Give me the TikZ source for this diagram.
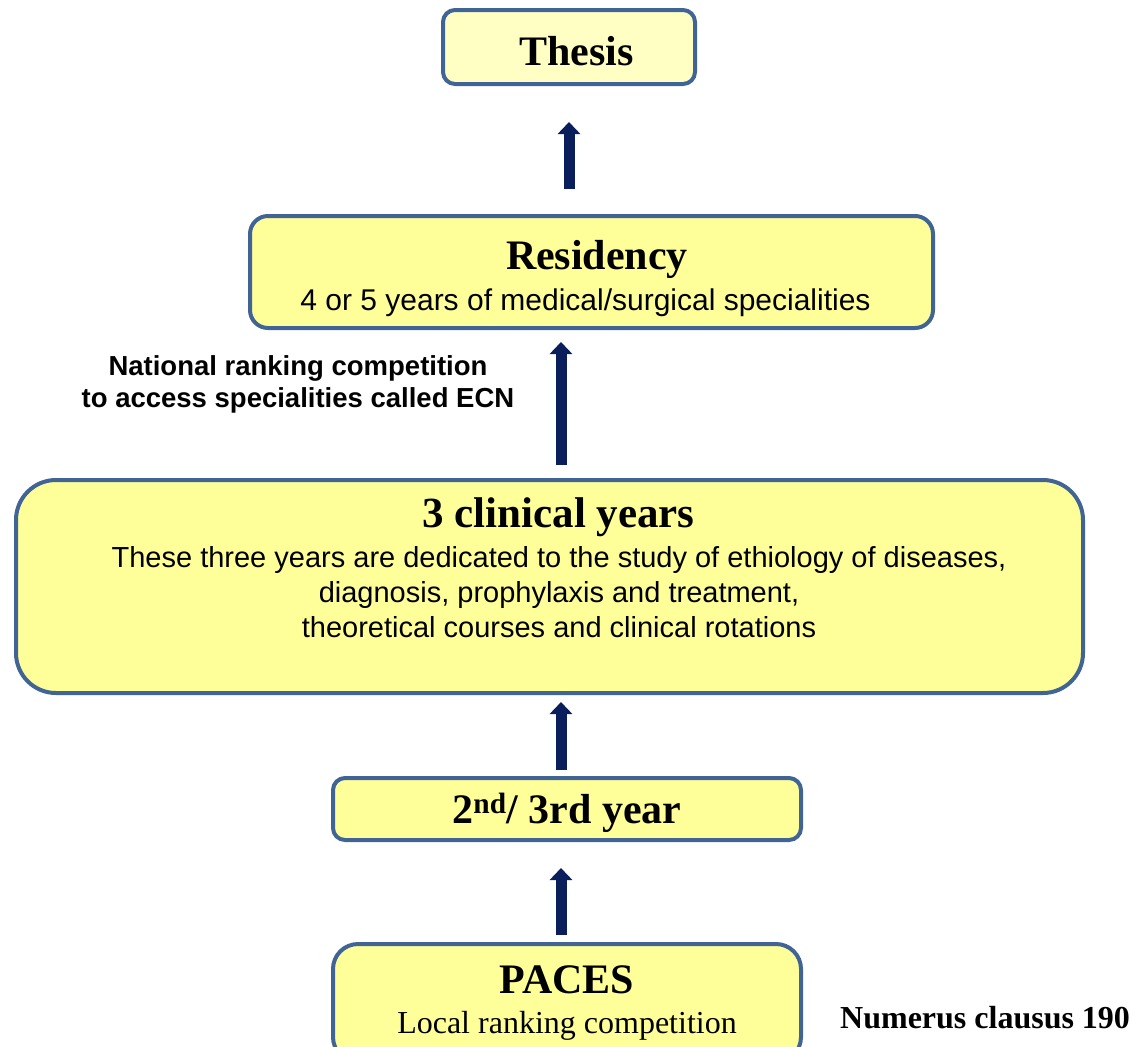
\documentclass[tikz,border=0pt]{standalone}
\usepackage{fontspec}
\setmainfont{Liberation Serif}
\setsansfont{Liberation Sans}
\usetikzlibrary{arrows.meta}
\usetikzlibrary{calc}

\definecolor{boxblue}{RGB}{65,100,150}
\definecolor{boxyellow}{RGB}{255,255,153}
\definecolor{thesisyellow}{RGB}{255,255,196}
\definecolor{arrowblue}{RGB}{10,30,92}

\newcommand{\titlefont}{\fontsize{42}{46}\selectfont\rmfamily\bfseries}

\begin{document}
\begin{tikzpicture}[x=1pt, y=-1pt,
	stage/.style={draw=boxblue, line width=4pt, fill=boxyellow, align=center, inner sep=0pt},
	uparrow/.style={draw=arrowblue, line width=11pt, -{Triangle[width=22pt,length=12pt]}}]
	\useasboundingbox (0,0) rectangle (1133,1047);
	\clip (0,0) rectangle (1133,1047);

	\node[stage, fill=thesisyellow, rounded corners=12pt, minimum width=252pt, minimum height=74pt, text height=36pt, text depth=0pt] (thesis) at (569,47) {\titlefont\hspace*{15pt}Thesis};
	\node[stage, rounded corners=18pt, minimum width=683pt, minimum height=112pt, font=\fontsize{30}{41}\selectfont\sffamily] (residency) at (591.5,272)
		{{\titlefont\rule{0pt}{43pt}\hspace*{11pt}Residency}\\4 or 5 years of medical/surgical specialities\hspace*{12pt}\rule[-6pt]{0pt}{6pt}};
	\node[stage, rounded corners=40pt, minimum width=1067pt, minimum height=213pt, font=\fontsize{29}{35}\selectfont\sffamily] (clinical) at (549.5,586.5)
		{{\titlefont\fontsize{43}{46}\selectfont\rule{0pt}{30pt}\hspace*{18pt}3 clinical years}\\[5pt]
		\hspace*{19pt}These three years are dedicated to the study of ethiology of diseases,\\
		\hspace*{19pt}diagnosis, prophylaxis and treatment,\\
		\hspace*{19pt}theoretical courses and clinical rotations\rule[-38pt]{0pt}{38pt}};
	\node[stage, rounded corners=12pt, minimum width=468pt, minimum height=62pt, text height=37pt, text depth=9pt] (second) at (567,809) {\titlefont 2\textsuperscript{nd}/ 3rd year};
	\node[stage, rounded corners=25pt, minimum width=468pt, minimum height=118pt, font=\fontsize{32}{40}\selectfont] (paces) at (567,1003)
		{{\titlefont\rule{0pt}{28pt}PACES}\\Local ranking competition\rule[-8pt]{0pt}{8pt}};

	% labels beside the boxes
	\node[font=\fontsize{27.5}{32}\selectfont\sffamily\bfseries, align=center, inner sep=0pt] (ecn) at (298,384.5) {National ranking competition\\to access specialities called ECN};
	\node[font=\fontsize{32}{38}\selectfont\bfseries, anchor=base west, inner sep=0pt] (numerus) at (840,1028) {Numerus clausus 190};

	% arrows
	\coordinate (axis) at (561,0);
	\draw[uparrow, shorten <=25pt, shorten >=36pt] (residency.north -| thesis.south) -- (thesis.south);
	\draw[uparrow, shorten <=13pt, shorten >=12pt] (clinical.north -| axis) -- (residency.south -| axis);
	\draw[uparrow, shorten <=6pt, shorten >=7pt] (second.north -| axis) -- (clinical.south -| axis);
	\draw[uparrow, shorten <=7pt, shorten >=26pt] (paces.north -| axis) -- (second.south -| axis);
\end{tikzpicture}
\end{document}
